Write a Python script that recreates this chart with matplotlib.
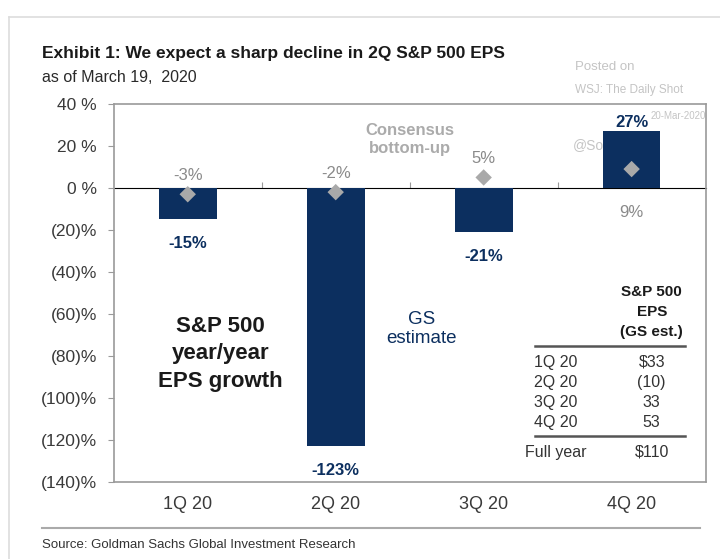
import matplotlib.pyplot as plt
from matplotlib.lines import Line2D

plt.rcParams["font.family"] = ["Liberation Sans", "DejaVu Sans"]

quarters = ["1Q 20", "2Q 20", "3Q 20", "4Q 20"]
gs_growth = [-15, -123, -21, 27]
consensus_growth = [-3, -2, 5, 9]
ytick_vals = [40, 20, 0, -20, -40, -60, -80, -100, -120, -140]
ytick_labels = ["40 %", "20 %", "0 %", "(20)%", "(40)%", "(60)%", "(80)%",
                "(100)%", "(120)%", "(140)%"]
table_rows = ["1Q 20", "2Q 20", "3Q 20", "4Q 20"]
table_vals = ["$33", "(10)", "33", "53"]
full_year = ("Full year", "$110")

NAVY = "#0c2f5f"
DIAMOND = "#a9a9a9"
GRAY_TXT = "#8a8a8a"
AXIS_GRAY = "#9a9a9a"

fig = plt.figure(figsize=(7.2, 5.59), dpi=100)
ax = fig.add_axes([0.158, 0.138, 0.822, 0.676])

x = list(range(len(quarters)))
ax.bar(x, gs_growth, width=0.39, color=NAVY, zorder=2)
ax.scatter(x, consensus_growth, marker="D", s=70, color=DIAMOND,
           edgecolors="none", zorder=3)

ax.set_xlim(-0.5, 3.5)
ax.set_ylim(-140, 40)
ax.set_yticks(ytick_vals, labels=ytick_labels)
ax.set_xticks(x, labels=quarters)
ax.tick_params(axis="y", length=4, color=AXIS_GRAY, labelsize=12.5,
               labelcolor="#3a3a3a", pad=8)
ax.tick_params(axis="x", length=0, labelsize=13, labelcolor="#3a3a3a", pad=10)
for sp in ax.spines.values():
    sp.set_color(AXIS_GRAY)
    sp.set_linewidth(1.2)

# zero line with category separators
zero = ax.secondary_xaxis(140 / 180)
zero.set_xticks([0.5, 1.5, 2.5], labels=[])
zero.tick_params(length=4, color=AXIS_GRAY)
zero.spines["bottom"].set_color(AXIS_GRAY)
zero.spines["bottom"].set_linewidth(1.2)

# value labels
for xi, g, c in zip(x, gs_growth, consensus_growth):
    if g < 0:
        ax.annotate(f"{g}%", (xi, g), xytext=(0, -12), textcoords="offset points",
                    ha="center", va="top", fontsize=12, fontweight="bold",
                    color=NAVY)
    else:
        ax.annotate(f"{g}%", (xi, g), xytext=(0, 1), textcoords="offset points",
                    ha="center", va="bottom", fontsize=12, fontweight="bold",
                    color=NAVY)
    if c > 0 and g > c:
        ax.annotate(f"{c}%", (xi, 0), xytext=(0, -12), textcoords="offset points",
                    ha="center", va="top", fontsize=12, color=GRAY_TXT)
    else:
        ax.annotate(f"{c}%", (xi, c), xytext=(0, 8), textcoords="offset points",
                    ha="center", va="bottom", fontsize=12, color=GRAY_TXT)

ax.text(1.5, 23, "Consensus\nbottom-up", ha="center", va="center",
        fontsize=12, fontweight="bold", color="#ababab", linespacing=1.25)
ax.text(0.22, -79, "S&P 500\nyear/year\nEPS growth", ha="center", va="center",
        fontsize=16, fontweight="bold", color="#1a1a1a", linespacing=1.4)
ax.text(1.58, -67, "GS\nestimate", ha="center", va="center",
        fontsize=13.5, color=NAVY, linespacing=1.15)

# small EPS table
tx_row, tx_val = 0.747, 0.909
ax.text(tx_val, 0.45, "S&P 500\nEPS\n(GS est.)", transform=ax.transAxes,
        ha="center", va="center", fontsize=11, fontweight="bold",
        color="#1a1a1a", linespacing=1.55)
ax.add_line(Line2D([0.711, 0.965], [0.36, 0.36], transform=ax.transAxes,
                   color="#555555", lw=1.8))
for i, (r, v) in enumerate(zip(table_rows, table_vals)):
    yy = 0.317 - i * 0.053
    ax.text(tx_row, yy, r, transform=ax.transAxes, ha="center", va="center",
            fontsize=11.5, color="#333333")
    ax.text(tx_val, yy, v, transform=ax.transAxes, ha="center", va="center",
            fontsize=11.5, color="#333333")
ax.add_line(Line2D([0.711, 0.965], [0.122, 0.122], transform=ax.transAxes,
                   color="#555555", lw=1.8))
ax.text(tx_row, 0.079, full_year[0], transform=ax.transAxes, ha="center",
        va="center", fontsize=11.5, color="#333333")
ax.text(tx_val, 0.079, full_year[1], transform=ax.transAxes, ha="center",
        va="center", fontsize=11.5, color="#333333")

# titles, watermark and source
fig.text(0.058, 0.905, "Exhibit 1: We expect a sharp decline in 2Q S&P 500 EPS",
         fontsize=12.5, fontweight="bold", color="#1a1a1a", va="center")
fig.text(0.058, 0.862, "as of March 19,  2020", fontsize=11.5, color="#2a2a2a",
         va="center")
wm = "#c4c4c4"
fig.text(0.798, 0.88, "Posted on", fontsize=9.5, color=wm, va="center")
fig.text(0.798, 0.839, "WSJ: The Daily Shot", fontsize=8.5, color=wm, va="center")
fig.text(0.903, 0.793, "20-Mar-2020", fontsize=7, color=wm, va="center")
# handle sits behind the bars
ax.text(0.795, 0.741, "@SoberLook", transform=fig.transFigure, fontsize=10,
        color=wm, va="center", zorder=1)

fig.add_artist(Line2D([0.058, 0.972], [0.056, 0.056], transform=fig.transFigure,
                      color="#aaaaaa", lw=1.5))
fig.text(0.058, 0.025, "Source: Goldman Sachs Global Investment Research",
         fontsize=9.5, color="#333333", va="center")

# outer frame
fig.add_artist(Line2D([0.012, 0.012], [0.0, 0.97], transform=fig.transFigure,
                      color="#dddddd", lw=1.2))
fig.add_artist(Line2D([0.012, 1.0], [0.97, 0.97], transform=fig.transFigure,
                      color="#dddddd", lw=1.2))

fig.savefig("out.png", dpi=100)
